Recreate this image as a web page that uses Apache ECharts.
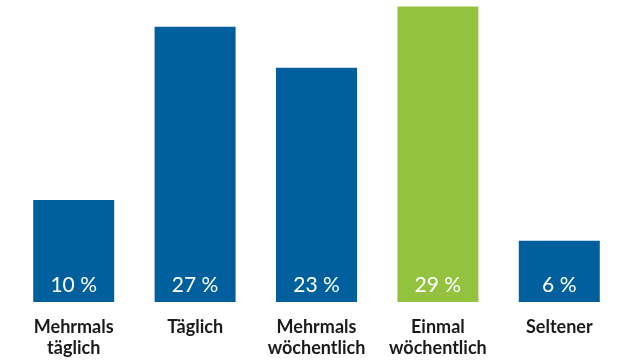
<!DOCTYPE html>
<html>
<head>
<meta charset="utf-8">
<script src="https://cdn.jsdelivr.net/npm/echarts@6/dist/echarts.min.js"></script>
<style>
  html, body { margin: 0; padding: 0; background: #fff; }
  #chart { width: 620px; height: 362px; }
</style>
</head>
<body>
<div id="chart"></div>
<script>
var categories = ['Mehrmals\ntäglich', 'Täglich', 'Mehrmals\nwöchentlich', 'Einmal\nwöchentlich', 'Seltener'];
var values = [10, 27, 23, 29, 6];
var highlight = 'Einmal\nwöchentlich';

var blue = '#00609D', green = '#93C23F';

var chart = echarts.init(document.getElementById('chart'));

var barData = values.map(function(v, i) {
  return {
    value: v,
    itemStyle: { color: categories[i] === highlight ? green : blue }
  };
});

chart.setOption({
  animation: false,
  grid: { left: 13, width: 609, top: 1.4, bottom: 60, containLabel: false },
  xAxis: {
    type: 'category',
    data: categories,
    axisLine: { show: false },
    axisTick: { show: false },
    axisLabel: {
      interval: 0,
      margin: 15,
      color: '#1a1a1a',
      fontFamily: 'Lato',
      fontWeight: 'bold',
      fontSize: 18,
      lineHeight: 21
    }
  },
  yAxis: {
    type: 'value',
    min: 0,
    max: 29.5,
    show: false,
    splitLine: { show: false }
  },
  series: [{
    type: 'bar',
    data: barData,
    barWidth: 81,
    label: {
      show: true,
      position: 'insideBottom',
      distance: 6,
      formatter: '{c} %',
      color: '#fff',
      fontFamily: 'Lato',
      fontSize: 21
    }
  }]
});
</script>
</body>
</html>
